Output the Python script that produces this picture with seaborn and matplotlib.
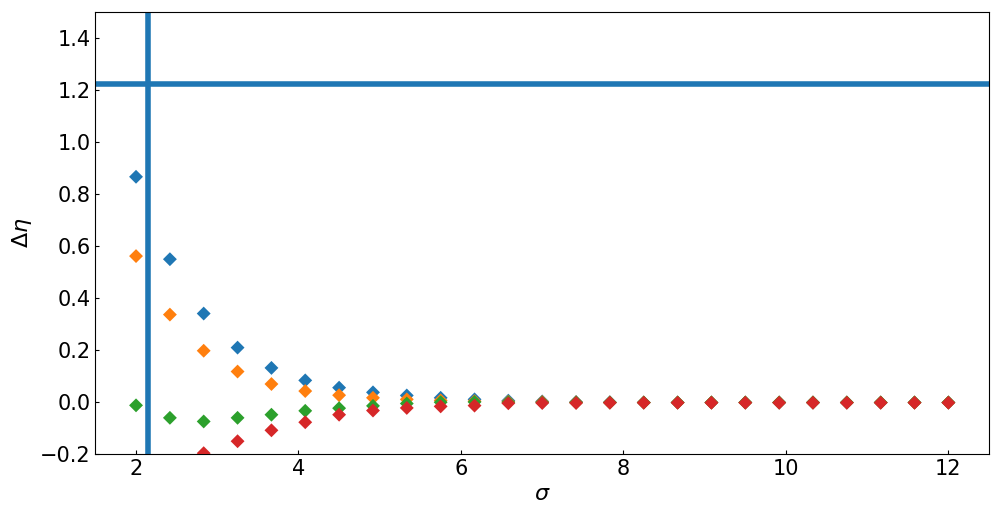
import numpy as np
import pandas as pd
import matplotlib
matplotlib.use("Agg")
import matplotlib.pyplot as plt
import seaborn as sns

sigma = [2.0, 2.417, 2.833, 3.25, 3.667, 4.083, 4.5, 4.917, 5.333, 5.75, 6.167, 6.583,
         7.0, 7.417, 7.833, 8.25, 8.667, 9.083, 9.5, 9.917, 10.333, 10.75, 11.167, 11.583, 12.0]

s1 = [0.865, 0.548, 0.339, 0.208, 0.130, 0.082, 0.054, 0.036, 0.024, 0.015, 0.009, 0.004,
      0.001, -0.001, -0.002, -0.003, -0.003, -0.003, -0.003, -0.003, -0.003, -0.003, -0.003, -0.003, -0.003]
s2 = [0.560, 0.335, 0.196, 0.116, 0.068, 0.041, 0.025, 0.015, 0.009, 0.005, 0.002, 0.0,
      -0.001, -0.002, -0.003, -0.003, -0.003, -0.003, -0.003, -0.003, -0.003, -0.003, -0.003, -0.003, -0.003]
s3 = [-0.014, -0.062, -0.076, -0.062, -0.050, -0.035, -0.025, -0.016, -0.007, -0.002, -0.001, -0.002,
      -0.003, -0.003, -0.003, -0.003, -0.003, -0.003, -0.003, -0.003, -0.003, -0.003, -0.003, -0.003, -0.003]
s4 = [-0.45, -0.30, -0.198, -0.152, -0.110, -0.079, -0.050, -0.034, -0.024, -0.018, -0.015, -0.006,
      -0.005, -0.005, -0.004, -0.004, -0.004, -0.004, -0.004, -0.004, -0.004, -0.004, -0.004, -0.004, -0.004]

vline_x = 2.15
hline_y = 1.22

series_names = ["s1", "s2", "s3", "s4"]
df = pd.concat([
    pd.DataFrame({"sigma": sigma, "deta": vals, "series": name})
    for name, vals in zip(series_names, [s1, s2, s3, s4])
], ignore_index=True)

fig = plt.figure(figsize=(9.99, 5.14), dpi=100)
ax = fig.add_axes([0.0955, 0.1173, 0.8945, 0.86])

sns.scatterplot(data=df, x="sigma", y="deta", hue="series", hue_order=series_names,
                palette=["#1f77b4", "#ff7f0e", "#2ca02c", "#d62728"],
                marker="D", s=50, linewidth=0, legend=False, ax=ax, zorder=3)

ax.axvline(vline_x, color="#1f77b4", linewidth=4, zorder=2)
ax.axhline(hline_y, color="#1f77b4", linewidth=4, zorder=2)

ax.set_xlim(1.5, 12.5)
ax.set_ylim(-0.2, 1.5)
ax.set_xticks([2, 4, 6, 8, 10, 12])
ax.set_yticks([-0.2, 0.0, 0.2, 0.4, 0.6, 0.8, 1.0, 1.2, 1.4])
ax.tick_params(direction="in", length=3, labelsize=15)
ax.set_xlabel(r"$\sigma$", fontsize=16)
ax.set_ylabel(r"$\Delta\eta$", fontsize=16)

fig.savefig("out.png", dpi=100)
